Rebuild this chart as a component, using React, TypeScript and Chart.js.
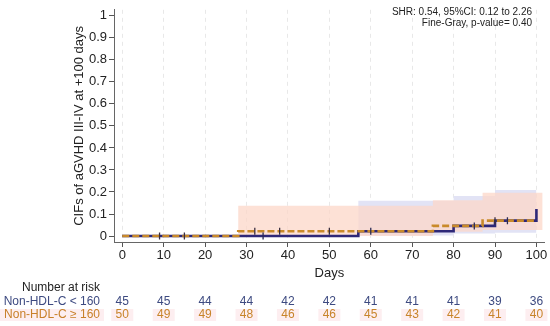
import React, { useEffect, useRef } from "react";
import { Chart, registerables } from "chart.js";
Chart.register(...registerables);

const xTicks = [0, 10, 20, 30, 40, 50, 60, 70, 80, 90, 100];
const yTicks = [0, 0.1, 0.2, 0.3, 0.4, 0.5, 0.6, 0.7, 0.8, 0.9, 1];

// Non-HDL-C < 160 (solid navy)
const lowTimes = [0, 57, 80, 90, 100];
const lowCIF = [0, 0.022, 0.046, 0.07, 0.123];
const lowUpper = [0, 0.16, 0.182, 0.209, 0.209];
const lowLower = [0, 0.003, 0.012, 0.015, 0.015];
const lowCensorTimes = [34, 60, 85, 93];
const lowCensorCIF = [0, 0.022, 0.046, 0.07];

// Non-HDL-C >= 160 (dashed orange)
const highTimes = [0, 28, 75, 87, 100];
const highCIF = [0, 0.022, 0.046, 0.07, 0.07];
const highBandTimes = [0, 28, 75, 87, 101.5];
const highUpper = [0.004, 0.138, 0.163, 0.197, 0.197];
const highLower = [0, 0, 0.019, 0.027, 0.027];
const highCensorTimes = [9, 15, 32, 38, 50, 90];
const highCensorCIF = [0, 0, 0.022, 0.022, 0.022, 0.07];

const riskLow = [45, 45, 44, 44, 42, 42, 41, 41, 41, 39, 36];
const riskHigh = [50, 49, 49, 48, 46, 46, 45, 43, 42, 41, 40];

const groupLabels = ["Non-HDL-C < 160", "Non-HDL-C \u2265 160"];
const annotation = ["SHR: 0.54, 95%CI: 0.12 to 2.26", "Fine-Gray, p-value= 0.40"];

const FONT = "'Liberation Sans', Arial, Helvetica, sans-serif";
const NAVY = "#2e2878";
const ORANGE = "#c98a2a";

const pts = (xs: number[], ys: number[]) => xs.map((x, i) => ({ x, y: ys[i] }));

export default function App() {
  const ref = useRef<HTMLCanvasElement | null>(null);
  useEffect(() => {
    if (!ref.current) return;
    const tablePlugin = {
      id: "tablePlugin",
      afterDraw(chart: any) {
        const ctx = chart.ctx;
        const xs = chart.scales.x;
        ctx.save();
        // annotation
        ctx.font = `10px ${FONT}`;
        ctx.fillStyle = "#222";
        ctx.textAlign = "right";
        ctx.textBaseline = "middle";
        ctx.fillText(annotation[0], 532, 12);
        ctx.fillText(annotation[1], 532, 23);
        // risk table
        ctx.font = `12px ${FONT}`;
        ctx.textAlign = "center";
        ctx.fillStyle = "#222";
        ctx.fillText("Number at risk", 61, 288);
        // faint pink highlight behind second row
        ctx.fillStyle = "#fdeef0";
        ctx.fillRect(0, 309, 104, 12);
        xTicks.forEach((t) => {
          const px = xs.getPixelForValue(t);
          ctx.fillRect(px - 11, 309, 22, 12);
        });
        ctx.textAlign = "right";
        ctx.fillStyle = "#3d4a80";
        ctx.fillText(groupLabels[0], 100, 302);
        ctx.fillStyle = "#c8802a";
        ctx.fillText(groupLabels[1], 100, 315);
        ctx.textAlign = "center";
        xTicks.forEach((t, i) => {
          const px = xs.getPixelForValue(t);
          ctx.fillStyle = "#3d4a80";
          ctx.fillText(String(riskLow[i]), px, 302);
          ctx.fillStyle = "#c8842a";
          ctx.fillText(String(riskHigh[i]), px, 315);
        });
        ctx.restore();
      },
    };
    const chart = new Chart(ref.current, {
      type: "line",
      data: {
        datasets: [
          {
            data: pts(lowCensorTimes, lowCensorCIF),
            showLine: false,
            pointStyle: "line",
            rotation: 90,
            pointRadius: 3.5,
            borderColor: "#2a2a55",
            borderWidth: 1.3,
            fill: false,
          } as any,
          {
            data: pts(highCensorTimes, highCensorCIF),
            showLine: false,
            pointStyle: "line",
            rotation: 90,
            pointRadius: 3.5,
            borderColor: "#3a2f40",
            borderWidth: 1.3,
            fill: false,
          },
          {
            data: pts(highTimes, highCIF),
            stepped: true,
            borderColor: ORANGE,
            borderWidth: 2.6,
            borderDash: [7, 3],
            pointRadius: 0,
            fill: false,
          },
          {
            data: pts(lowTimes, lowCIF),
            stepped: true,
            borderColor: NAVY,
            borderWidth: 2.6,
            pointRadius: 0,
            fill: false,
          },
          {
            data: pts(highBandTimes, highUpper),
            stepped: true,
            borderWidth: 0,
            borderColor: "rgba(0,0,0,0)",
            backgroundColor: "rgba(252,215,200,0.75)",
            pointRadius: 0,
            fill: 5,
          },
          {
            data: pts(highBandTimes, highLower),
            stepped: true,
            borderWidth: 0,
            borderColor: "rgba(0,0,0,0)",
            pointRadius: 0,
            fill: false,
          },
          {
            data: pts(lowTimes, lowUpper),
            stepped: true,
            borderWidth: 0,
            borderColor: "rgba(0,0,0,0)",
            backgroundColor: "#e2e3f5",
            pointRadius: 0,
            fill: 7,
          },
          {
            data: pts(lowTimes, lowLower),
            stepped: true,
            borderWidth: 0,
            borderColor: "rgba(0,0,0,0)",
            pointRadius: 0,
            fill: false,
          },
        ],
      },
      options: {
        animation: false,
        responsive: false,
        devicePixelRatio: 1,
        layout: { padding: { left: 0, right: 5, top: 5, bottom: 0 } },
        plugins: { legend: { display: false }, tooltip: { enabled: false } },
        scales: {
          x: {
            type: "linear",
            min: -2,
            max: 102,
            afterFit: (s: any) => {
              s.height = 84;
            },
            afterBuildTicks: (s: any) => {
              s.ticks = xTicks.map((v) => ({ value: v }));
            },
            ticks: {
              font: { family: FONT, size: 13 },
              color: "#222",
              padding: 1,
              maxRotation: 0,
              callback: (v: any) => String(v),
            },
            grid: {
              display: true,
              drawOnChartArea: true,
              color: "#e8e8e8",
              lineWidth: 1,
              tickLength: 5,
              tickColor: "#555",
            },
            border: { display: true, color: "#666", width: 1, dash: [4, 4] },
            title: {
              display: true,
              text: "Days",
              font: { family: FONT, size: 13 },
              color: "#222",
              padding: { top: 0, bottom: 45 },
            },
          },
          y: {
            type: "linear",
            min: -0.027,
            max: 1.027,
            afterFit: (s: any) => {
              s.width = 114;
            },
            afterBuildTicks: (s: any) => {
              s.ticks = yTicks.map((v) => ({ value: v }));
            },
            ticks: {
              font: { family: FONT, size: 13 },
              color: "#222",
              padding: 2,
              callback: (v: any) => String(Number(Number(v).toFixed(1))),
            },
            grid: {
              display: true,
              drawOnChartArea: false,
              tickLength: 5,
              tickColor: "#555",
            },
            border: { display: true, color: "#666", width: 1 },
            title: {
              display: true,
              text: "CIFs of aGVHD III-IV at +100 days",
              font: { family: FONT, size: 13 },
              color: "#222",
              padding: { top: 72, bottom: 0 },
            },
          },
        },
      },
      plugins: [tablePlugin],
    } as any);
    return () => chart.destroy();
  }, []);
  return (
    <div style={{ position: "absolute", left: 0, top: 0, width: 550, height: 326, background: "#fff" }}>
      <canvas ref={ref} width={550} height={326} style={{ display: "block" }} />
    </div>
  );
}
